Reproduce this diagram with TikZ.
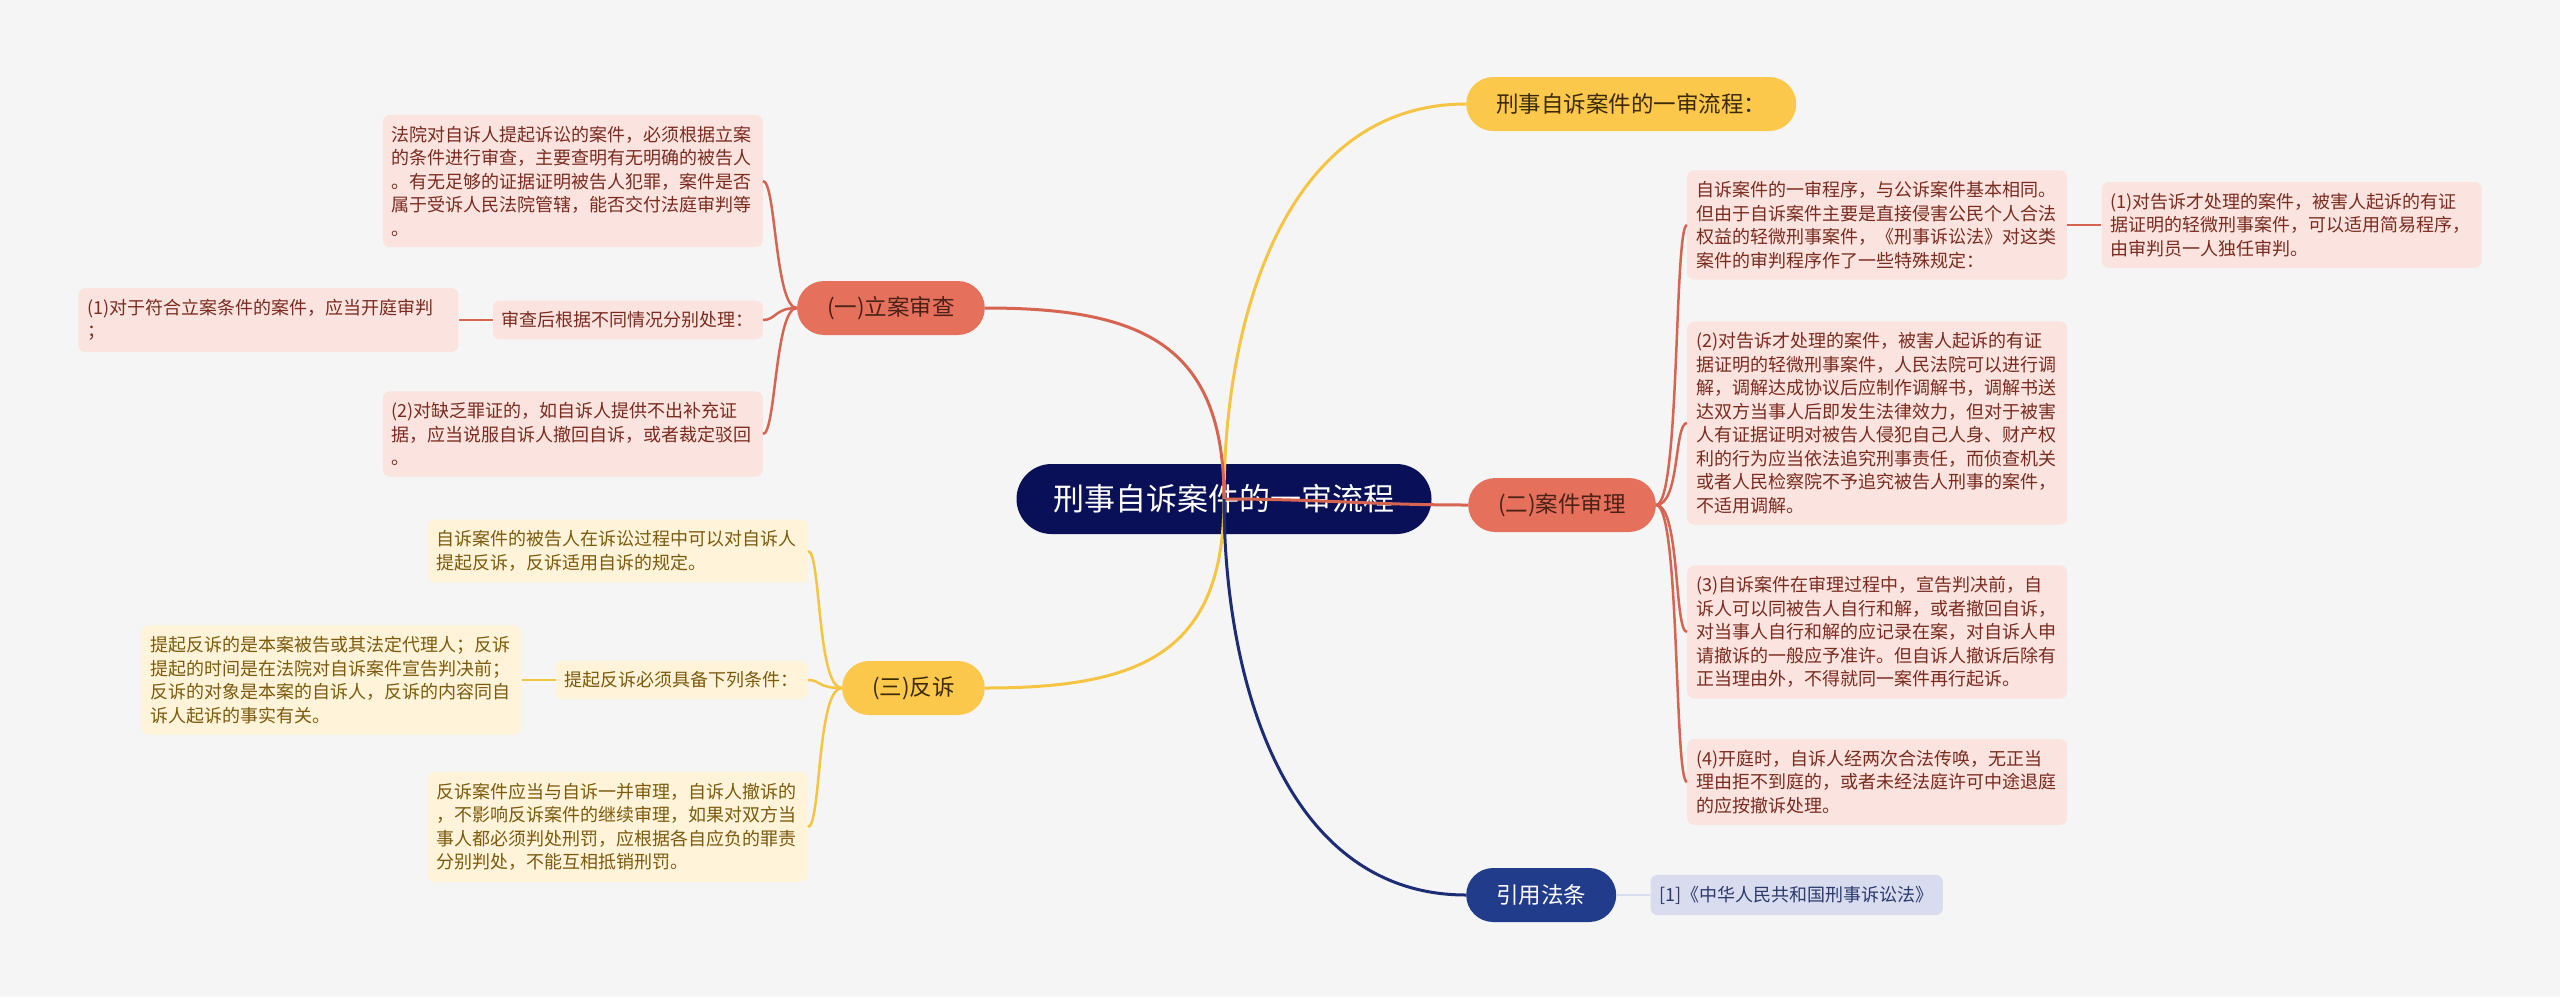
\documentclass[tikz,border=0pt]{standalone}
\usepackage{fontspec}
\setmainfont{Noto Sans CJK SC}
\usetikzlibrary{positioning}
\definecolor{BgGray}{HTML}{F5F5F5}
\definecolor{RootBlue}{HTML}{0A1057}
\definecolor{RedPill}{HTML}{E5705B}
\definecolor{RedDark}{HTML}{4A2218}
\definecolor{RedLeaf}{HTML}{FBE4DF}
\definecolor{RedText}{HTML}{7A2B1F}
\definecolor{RedLine}{HTML}{D66450}
\definecolor{YelPill}{HTML}{FCC84C}
\definecolor{YelDark}{HTML}{3A2A05}
\definecolor{YelLeaf}{HTML}{FFF4D9}
\definecolor{YelText}{HTML}{7C5A0E}
\definecolor{YelLine}{HTML}{F6C443}
\definecolor{BluePill}{HTML}{223C8C}
\definecolor{BlueLine}{HTML}{1C2C75}
\definecolor{BlueLeaf}{HTML}{D8DCEE}
\definecolor{BlueText}{HTML}{2B3A6B}
\tikzset{
    root/.style={fill=RootBlue, text=white, rounded corners=35pt, minimum width=415pt, minimum height=70pt, font=\fontsize{31}{36}\selectfont},
    pill/.style={rounded corners=27pt, minimum height=54pt, inner xsep=30pt, font=\fontsize{22.5}{27}\selectfont},
    redsec/.style={pill, fill=RedPill, text=RedDark},
    yelsec/.style={pill, fill=YelPill, text=YelDark},
    bluesec/.style={pill, fill=BluePill, text=white},
    leaf/.style={rounded corners=7pt, align=left, inner xsep=9pt, inner ysep=11pt, font=\fontsize{18}{23.5}\selectfont},
    wide/.style={text width=362pt},
    redleaf/.style={leaf, fill=RedLeaf, text=RedText},
    yelleaf/.style={leaf, fill=YelLeaf, text=YelText},
    blueleaf/.style={leaf, fill=BlueLeaf, text=BlueText},
    rmain/.style={draw=RedLine, line width=3pt},
    ymain/.style={draw=YelLine, line width=3pt},
    bmain/.style={draw=BlueLine, line width=3pt},
    rline/.style={draw=RedLine, line width=2.5pt},
    yline/.style={draw=YelLine, line width=2.5pt}
}
\begin{document}
\begin{tikzpicture}[x=1pt, y=-1pt, node distance=34pt]
\useasboundingbox[fill=BgGray] (0,0) rectangle (2560,997);

% Root and first level
\node[root] (root) at (1224,499) {刑事自诉案件的一审流程};

\node[yelsec, anchor=west]  (top)  at (1466,104) {刑事自诉案件的一审流程：};
\node[redsec, anchor=east]  (sec1) at (985,308)  {(一)立案审查};
\node[redsec, anchor=west]  (sec2) at (1468,505) {(二)案件审理};
\node[yelsec, anchor=east]  (sec3) at (985,688)  {(三)反诉};
\node[bluesec, anchor=west] (ref)  at (1466,895) {引用法条};

% (一) leaves
\node[redleaf, wide, anchor=east] (a1) at (763,181) {法院对自诉人提起诉讼的案件，必须根据立案\\的条件进行审查，主要查明有无明确的被告人\\。有无足够的证据证明被告人犯罪，案件是否\\属于受诉人民法院管辖，能否交付法庭审判等\\。};
\node[redleaf, anchor=east] (amid) at (763,320) {审查后根据不同情况分别处理：};
\node[redleaf, wide, left=of amid] (a1a) {(1)对于符合立案条件的案件，应当开庭审判\\；};
\node[redleaf, wide, anchor=east] (a2) at (763,434) {(2)对缺乏罪证的，如自诉人提供不出补充证\\据，应当说服自诉人撤回自诉，或者裁定驳回\\。};

% (三) leaves
\node[yelleaf, wide, anchor=east] (c1) at (808,551) {自诉案件的被告人在诉讼过程中可以对自诉人\\提起反诉，反诉适用自诉的规定。};
\node[yelleaf, anchor=east] (c2) at (808,680) {提起反诉必须具备下列条件：};
\node[yelleaf, wide, left=of c2] (c2a) {提起反诉的是本案被告或其法定代理人；反诉\\提起的时间是在法院对自诉案件宣告判决前；\\反诉的对象是本案的自诉人，反诉的内容同自\\诉人起诉的事实有关。};
\node[yelleaf, wide, anchor=east] (c3) at (808,827) {反诉案件应当与自诉一并审理，自诉人撤诉的\\，不影响反诉案件的继续审理，如果对双方当\\事人都必须判处刑罚，应根据各自应负的罪责\\分别判处，不能互相抵销刑罚。};

% (二) leaves
\node[redleaf, wide, anchor=west] (b1) at (1687,225) {自诉案件的一审程序，与公诉案件基本相同。\\但由于自诉案件主要是直接侵害公民个人合法\\权益的轻微刑事案件，《刑事诉讼法》对这类\\案件的审判程序作了一些特殊规定：};
\node[redleaf, wide, right=of b1] (b1a) {(1)对告诉才处理的案件，被害人起诉的有证\\据证明的轻微刑事案件，可以适用简易程序，\\由审判员一人独任审判。};
\node[redleaf, wide, anchor=west] (b2) at (1687,423) {(2)对告诉才处理的案件，被害人起诉的有证\\据证明的轻微刑事案件，人民法院可以进行调\\解，调解达成协议后应制作调解书，调解书送\\达双方当事人后即发生法律效力，但对于被害\\人有证据证明对被告人侵犯自己人身、财产权\\利的行为应当依法追究刑事责任，而侦查机关\\或者人民检察院不予追究被告人刑事的案件，\\不适用调解。};
\node[redleaf, wide, anchor=west] (b3) at (1687,632) {(3)自诉案件在审理过程中，宣告判决前，自\\诉人可以同被告人自行和解，或者撤回自诉，\\对当事人自行和解的应记录在案，对自诉人申\\请撤诉的一般应予准许。但自诉人撤诉后除有\\正当理由外，不得就同一案件再行起诉。};
\node[redleaf, wide, anchor=west] (b4) at (1687,782) {(4)开庭时，自诉人经两次合法传唤，无正当\\理由拒不到庭的，或者未经法庭许可中途退庭\\的应按撤诉处理。};

% 引用法条 leaf
\node[blueleaf, right=of ref] (d1) {[1]《中华人民共和国刑事诉讼法》};

% Lines from root to first level
\draw[ymain] (root.center) to[out=90, in=180] (top.west);
\draw[rmain] (root.center) to[out=90, in=0, looseness=1.3] (sec1.east);
\draw[rmain] (root.center) to[out=0, in=180] (sec2.west);
\draw[ymain] (root.center) to[out=-90, in=0, looseness=1.3] (sec3.east);
\draw[bmain] (root.center) to[out=-90, in=180] (ref.west);

% Lines from first level to leaves
\draw[rline] (sec1.west) .. controls +(-22,0) and +(13,0) .. (a1.east);
\draw[rline] (sec1.west) .. controls +(-22,0) and +(13,0) .. (amid.east);
\draw[rline] (sec1.west) .. controls +(-22,0) and +(13,0) .. (a2.east);
\draw[rline] (amid.west) -- (a1a.east);

\draw[rline] (sec2.east) .. controls +(24,0) and +(-13,0) .. (b1.west);
\draw[rline] (sec2.east) .. controls +(24,0) and +(-13,0) .. (b2.west);
\draw[rline] (sec2.east) .. controls +(24,0) and +(-13,0) .. (b3.west);
\draw[rline] (sec2.east) .. controls +(24,0) and +(-13,0) .. (b4.west);
\draw[rline] (b1.east) -- (b1a.west);

\draw[yline] (sec3.west) .. controls +(-25,0) and +(13,0) .. (c1.east);
\draw[yline] (sec3.west) .. controls +(-25,0) and +(13,0) .. (c2.east);
\draw[yline] (sec3.west) .. controls +(-25,0) and +(13,0) .. (c3.east);
\draw[yline] (c2.west) -- (c2a.east);

\draw[draw=BlueLeaf, line width=2.5pt] (ref.east) -- (d1.west);
\end{tikzpicture}
\end{document}
